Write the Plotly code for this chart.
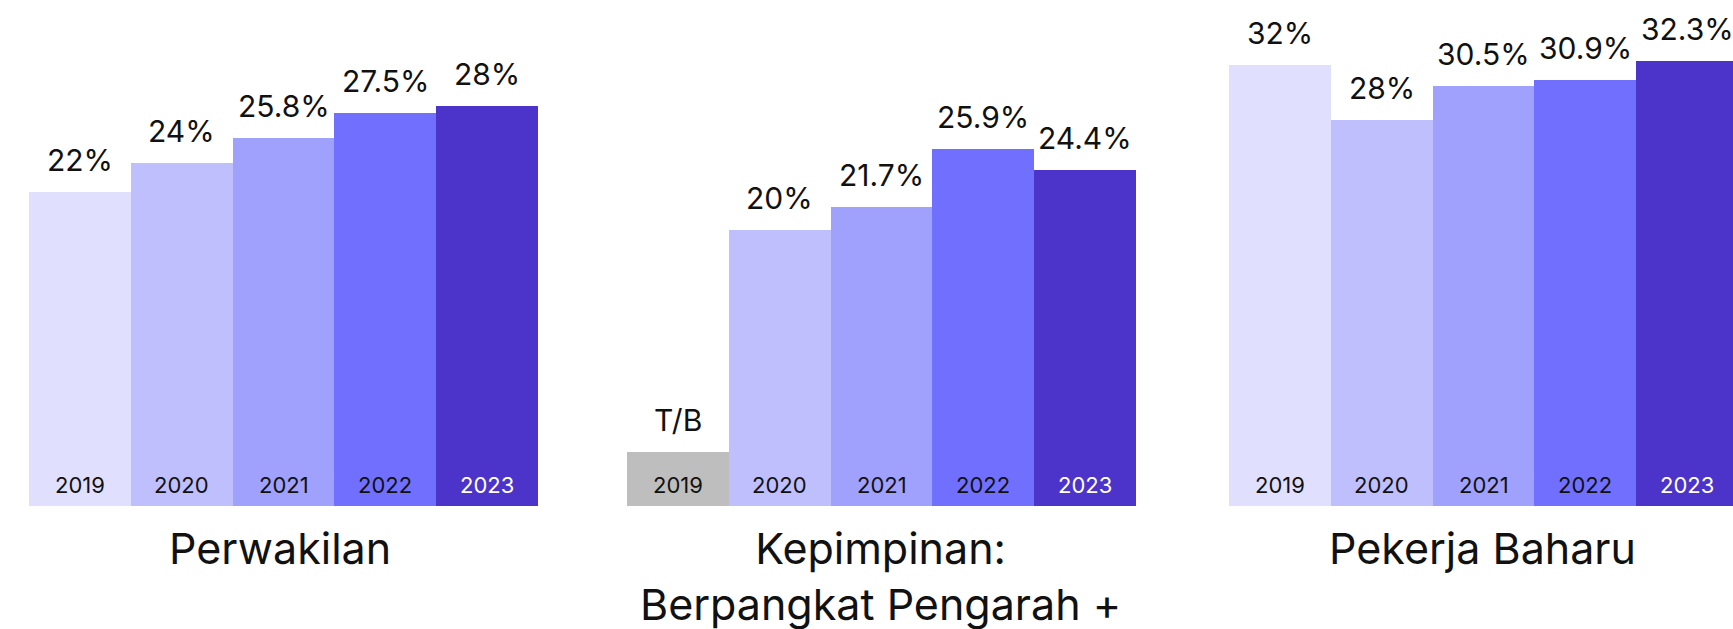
import plotly.graph_objects as go

years = ["2019", "2020", "2021", "2022", "2023"]

panel_titles = ["Perwakilan", "Kepimpinan:<br>Berpangkat Pengarah +", "Pekerja Baharu"]

perwakilan = [22, 24, 25.8, 27.5, 28]
kepimpinan = [None, 20, 21.7, 25.9, 24.4]
pekerja_baharu = [32, 28, 30.5, 30.9, 32.3]

no_data_label = "T/B"
no_data_bar = 3.9  # height of the grey "no data" placeholder bar

year_colors = ["#E0E0FE", "#C0BFFE", "#A0A0FD", "#7170FE", "#4C33C9"]
no_data_color = "#BEBEBE"
year_label_colors = ["#111111", "#111111", "#111111", "#111111", "#FFFFFF"]

FONT = "Inter, Roboto, sans-serif"
W, H = 1733, 629

series = [perwakilan, kepimpinan, pekerja_baharu]
domains = [[29 / W, 538 / W], [627 / W, 1136 / W], [1229 / W, 1.0]]
xranges = [[-0.5, 4.5], [-0.5, 4.5], [-0.5, 4.5 - 5 / 101.8]]
yranges = [[0, 35.43], [0, 36.72], [0, 36.72]]
title_x_px = [279.5, 880.5, 1482.5]

fig = go.Figure()
annotations = []

for i, vals in enumerate(series):
    xa = "x" if i == 0 else f"x{i + 1}"
    ya = "y" if i == 0 else f"y{i + 1}"
    heights = [v if v is not None else no_data_bar for v in vals]
    colors = [year_colors[j] if vals[j] is not None else no_data_color for j in range(len(vals))]
    labels = [f"{v:g}%" if v is not None else no_data_label for v in vals]
    fig.add_trace(go.Bar(
        x=years, y=heights, xaxis=xa, yaxis=ya,
        marker=dict(color=colors, line=dict(width=0)),
        hoverinfo="skip", showlegend=False,
    ))
    for j, yr in enumerate(years):
        annotations.append(dict(
            x=j, y=heights[j], xref=xa, yref=ya, text=labels[j],
            showarrow=False, yanchor="bottom", xanchor="center", yshift=12,
            font=dict(family=FONT, size=30, color="#111111"),
        ))
        annotations.append(dict(
            x=j, y=0, xref=xa, yref=ya, text=yr,
            showarrow=False, yanchor="bottom", xanchor="center", yshift=6,
            font=dict(family=FONT, size=22, color=year_label_colors[j]),
        ))
    annotations.append(dict(
        x=title_x_px[i] / W,
        y=(506 - 520) / 506, xref="paper", yref="paper",
        text=panel_titles[i], showarrow=False, yanchor="top", xanchor="center",
        font=dict(family=FONT, size=43, color="#111111"),
    ))

layout = dict(
    width=W, height=H, autosize=False,
    margin=dict(l=0, r=0, t=0, b=123, pad=0),
    paper_bgcolor="white", plot_bgcolor="white",
    bargap=0, annotations=annotations,
)
for i in range(3):
    xk = "xaxis" if i == 0 else f"xaxis{i + 1}"
    yk = "yaxis" if i == 0 else f"yaxis{i + 1}"
    ya = "y" if i == 0 else f"y{i + 1}"
    xa = "x" if i == 0 else f"x{i + 1}"
    layout[xk] = dict(domain=domains[i], range=xranges[i], anchor=ya,
                      type="category", categoryorder="array", categoryarray=years,
                      showticklabels=False, showgrid=False, zeroline=False,
                      showline=False, ticks="", fixedrange=True)
    layout[yk] = dict(domain=[0, 1], range=yranges[i], anchor=xa,
                      showticklabels=False, showgrid=False, zeroline=False,
                      showline=False, ticks="", fixedrange=True)

fig.update_layout(**layout)
fig.write_html("out.html", config={"displayModeBar": False})
